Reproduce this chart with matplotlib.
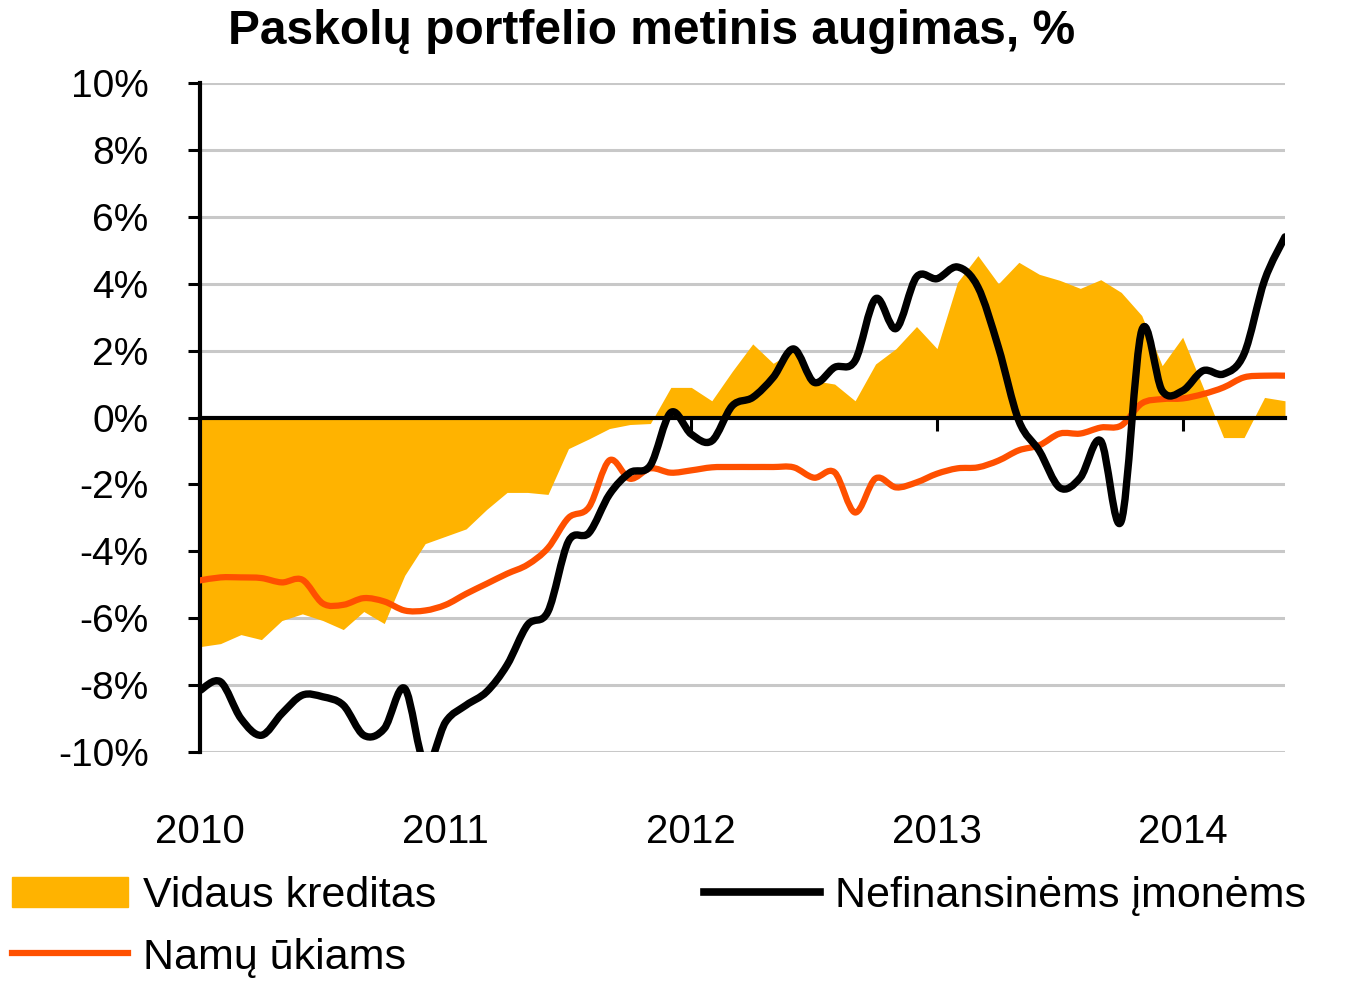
import matplotlib.pyplot as plt
import numpy as np
from matplotlib.patches import Patch, PathPatch
from matplotlib.lines import Line2D
from matplotlib.path import Path

plt.rcParams['font.family'] = ['Liberation Sans', 'DejaVu Sans']

# monthly, 2010-01 .. 2014-06
months = np.arange(54)

vidaus_kreditas = [-6.85, -6.76, -6.49, -6.64, -6.07, -5.87, -6.07, -6.34, -5.8, -6.16,
                   -4.72, -3.77, -3.55, -3.33, -2.75, -2.24, -2.24, -2.3, -0.93, -0.64,
                   -0.33, -0.21, -0.18, 0.9, 0.9, 0.5, 1.38, 2.2, 1.62, 2.0,
                   1.1, 1.0, 0.5, 1.6, 2.06, 2.72, 2.06, 4.04, 4.84, 4.0,
                   4.64, 4.28, 4.1, 3.86, 4.12, 3.74, 3.05, 1.55, 2.4, 0.9,
                   -0.6, -0.6, 0.6, 0.5]

nefinansinems = [-8.16, -7.9, -9.0, -9.5, -8.85, -8.3, -8.35, -8.6, -9.5, -9.3,
                 -8.1, -10.4, -9.1, -8.6, -8.2, -7.4, -6.2, -5.8, -3.7, -3.45,
                 -2.3, -1.65, -1.43, 0.15, -0.5, -0.7, 0.35, 0.6, 1.2, 2.05,
                 1.05, 1.5, 1.7, 3.55, 2.66, 4.2, 4.15, 4.5, 3.9, 2.1,
                 -0.1, -1.0, -2.1, -1.8, -0.7, -3.1, 2.6, 0.8, 0.8, 1.4,
                 1.3, 1.9, 4.1, 5.4]

namu_ukiams = [-4.87, -4.78, -4.78, -4.8, -4.93, -4.85, -5.56, -5.6, -5.4, -5.5,
               -5.77, -5.77, -5.6, -5.27, -4.97, -4.67, -4.4, -3.9, -3.0, -2.68,
               -1.28, -1.83, -1.52, -1.65, -1.58, -1.49, -1.48, -1.48, -1.48, -1.49,
               -1.8, -1.64, -2.84, -1.82, -2.09, -1.94, -1.68, -1.52, -1.49, -1.29,
               -0.98, -0.83, -0.48, -0.48, -0.3, -0.24, 0.42, 0.55, 0.57, 0.7,
               0.9, 1.2, 1.25, 1.25]

years = ['2010', '2011', '2012', '2013', '2014']
y_ticks = np.arange(-10, 11, 2)

fill_col = '#FFB300'
orange = '#FF5000'


def smooth_line(ax, x, y, **kw):
    # Excel-style smoothed line: cubic bezier through every point
    pts = np.column_stack([x, y]).astype(float)
    ext = np.vstack([pts[0], pts, pts[-1]])
    verts = [pts[0]]
    codes = [Path.MOVETO]
    for i in range(len(pts) - 1):
        p0, p1, p2, p3 = ext[i], ext[i + 1], ext[i + 2], ext[i + 3]
        verts += [p1 + (p2 - p0) / 6, p2 - (p3 - p1) / 6, p2]
        codes += [Path.CURVE4] * 3
    patch = PathPatch(Path(verts, codes), fill=False, transform=ax.transData,
                      capstyle='round', joinstyle='round', **kw)
    ax.add_patch(patch)


fig = plt.figure(figsize=(13.7, 9.83), dpi=100)
ax = fig.add_axes([200 / 1370, 231 / 983, 1085 / 1370, 669 / 983])

ax.fill_between(months, 0, vidaus_kreditas, color=fill_col, lw=0, zorder=2)
smooth_line(ax, months, namu_ukiams, edgecolor=orange, lw=4.5, zorder=3)
smooth_line(ax, months, nefinansinems, edgecolor='black', lw=5.3, zorder=4)

ax.set_xlim(0, 53)
ax.set_ylim(-10, 10)
ax.set_yticks(y_ticks)
ax.set_yticklabels([f'{v}%' for v in y_ticks], fontsize=28)
ax.yaxis.grid(True, color='#c8c8c8', lw=2.2)
ax.set_axisbelow(True)
ax.tick_params(axis='y', length=9, width=2.2, pad=28, direction='out')

for s in ['top', 'right']:
    ax.spines[s].set_visible(False)
ax.spines['left'].set_linewidth(3)
ax.spines['bottom'].set_position(('data', 0))
ax.spines['bottom'].set_linewidth(3)
ax.spines['bottom'].set_zorder(5)
ax.set_xticks(np.arange(len(years)) * 12)
ax.tick_params(axis='x', length=9, width=2.2, direction='out', labelbottom=False)

for i, yr in enumerate(years):
    ax.text(i * 12, -0.12, yr, transform=ax.get_xaxis_transform(),
            ha='center', va='center', fontsize=29)

fig.text(652 / 1370, 1 - 32 / 983, 'Paskolų portfelio metinis augimas, %',
         ha='center', va='center', fontsize=34.5, fontweight='bold')

handles = [Patch(color=fill_col), Line2D([], [], color=orange, lw=4.5),
           Line2D([], [], color='black', lw=5.5)]
labels = ['Vidaus kreditas', 'Namų ūkiams', 'Nefinansinėms įmonėms']
fig.legend(handles, labels, loc='upper left', bbox_to_anchor=(12 / 1370, 1 - 876 / 983),
           ncol=2, frameon=False, fontsize=31, handlelength=2.7, handletextpad=0.35,
           columnspacing=6.2, labelspacing=0.5, borderaxespad=0, borderpad=0)

fig.savefig('out.png', dpi=100)
